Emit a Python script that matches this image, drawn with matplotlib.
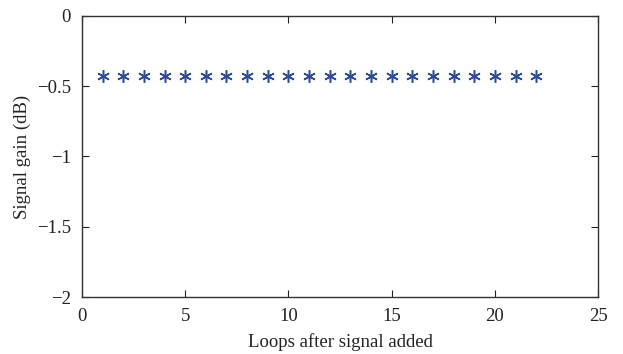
import matplotlib
matplotlib.use("Agg")
import matplotlib.pyplot as plt

# data
loops = list(range(1, 23))
gain_db = [-0.43] * 22

plt.rcParams['font.family'] = ['Liberation Serif', 'DejaVu Serif']
plt.rcParams['font.size'] = 13.5

fig = plt.figure(figsize=(6.23, 3.54), dpi=100)
ax = fig.add_axes([0.1316, 0.161, 0.8284, 0.794])

ax.plot(loops, gain_db, linestyle='none', marker=(6, 2, 0), markersize=9,
        markeredgewidth=1.1, color='#2b4b9f')

ax.set_xlim(0, 25)
ax.set_ylim(-2, 0)
ax.set_xticks([0, 5, 10, 15, 20, 25])
ax.set_yticks([-2, -1.5, -1, -0.5, 0])
ax.set_yticklabels(['\u22122', '\u22121.5', '\u22121', '\u22120.5', '0'])
ax.tick_params(direction='in', top=True, right=True, length=5, colors='#222222')
ax.tick_params(axis='x', pad=8)
ax.tick_params(axis='y', pad=8)
for s in ax.spines.values():
    s.set_color('#333333')
    s.set_linewidth(1.0)

ax.set_xlabel("Loops after signal added", color='#222222', labelpad=6)
ax.set_ylabel("Signal gain (dB)", color='#222222', labelpad=4)

fig.savefig("out.png", dpi=100)
